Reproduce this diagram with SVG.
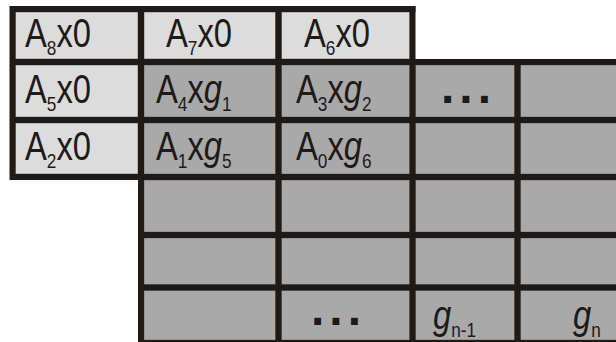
<svg xmlns="http://www.w3.org/2000/svg" width="616" height="342" viewBox="0 0 616 342">
<style>
.lt{fill:#dcdcdc;stroke:#8c8c8c;stroke-width:1}
.dk{fill:#a9a9a9;stroke:#7d7d7d;stroke-width:1}
.ln{stroke:#1e1a18;stroke-width:6;fill:none}
.t{font-family:"Liberation Sans",Arial,sans-serif;font-size:40px;fill:#1e1a18}
.s{font-size:21px}
.i{font-style:italic}
.d{font-family:"Liberation Sans",Arial,sans-serif;font-weight:bold;font-size:48px;letter-spacing:5px;fill:#1e1a18}
</style>
<rect width="616" height="342" fill="#ffffff"/>
<g id="cells">
<g id="c00"><rect class="lt" x="15.5" y="12" width="122.5" height="47"/><text class="t" transform="translate(25 47) scale(0.82 1)">A<tspan class="s" dy="8">8</tspan><tspan dy="-8">x0</tspan></text></g>
<g id="c01"><rect class="lt" x="144" y="12" width="131.5" height="47"/><text class="t" transform="translate(166 47) scale(0.82 1)">A<tspan class="s" dy="8">7</tspan><tspan dy="-8">x0</tspan></text></g>
<g id="c02"><rect class="lt" x="281.5" y="12" width="128.5" height="47"/><text class="t" transform="translate(304 47) scale(0.82 1)">A<tspan class="s" dy="8">6</tspan><tspan dy="-8">x0</tspan></text></g>
<g id="c10"><rect class="lt" x="15.5" y="65" width="122.5" height="52"/><text class="t" transform="translate(25 103) scale(0.82 1)">A<tspan class="s" dy="8">5</tspan><tspan dy="-8">x0</tspan></text></g>
<g id="c11"><rect class="dk" x="144" y="65" width="131.5" height="52"/><text class="t" transform="translate(156 103) scale(0.82 1)">A<tspan class="s" dy="8">4</tspan><tspan dy="-8">x</tspan><tspan class="i">g</tspan><tspan class="s" dy="8">1</tspan></text></g>
<g id="c12"><rect class="dk" x="281.5" y="65" width="128.5" height="52"/><text class="t" transform="translate(296 103) scale(0.82 1)">A<tspan class="s" dy="8">3</tspan><tspan dy="-8">x</tspan><tspan class="i">g</tspan><tspan class="s" dy="8">2</tspan></text></g>
<g id="c13"><rect class="dk" x="415.5" y="65" width="99" height="52"/><text class="d" x="441" y="103">...</text></g>
<g id="c14"><rect class="dk" x="520.5" y="65" width="100" height="52"/></g>
<g id="c20"><rect class="lt" x="15.5" y="123" width="122.5" height="51"/><text class="t" transform="translate(25 160) scale(0.82 1)">A<tspan class="s" dy="8">2</tspan><tspan dy="-8">x0</tspan></text></g>
<g id="c21"><rect class="dk" x="144" y="123" width="131.5" height="51"/><text class="t" transform="translate(156 160) scale(0.82 1)">A<tspan class="s" dy="8">1</tspan><tspan dy="-8">x</tspan><tspan class="i">g</tspan><tspan class="s" dy="8">5</tspan></text></g>
<g id="c22"><rect class="dk" x="281.5" y="123" width="128.5" height="51"/><text class="t" transform="translate(296 160) scale(0.82 1)">A<tspan class="s" dy="8">0</tspan><tspan dy="-8">x</tspan><tspan class="i">g</tspan><tspan class="s" dy="8">6</tspan></text></g>
<g id="c23"><rect class="dk" x="415.5" y="123" width="99" height="51"/></g>
<g id="c24"><rect class="dk" x="520.5" y="123" width="100" height="51"/></g>
<g id="c31"><rect class="dk" x="144" y="180" width="131.5" height="52"/></g>
<g id="c32"><rect class="dk" x="281.5" y="180" width="128.5" height="52"/></g>
<g id="c33"><rect class="dk" x="415.5" y="180" width="99" height="52"/></g>
<g id="c34"><rect class="dk" x="520.5" y="180" width="100" height="52"/></g>
<g id="c41"><rect class="dk" x="144" y="238" width="131.5" height="46.5"/></g>
<g id="c42"><rect class="dk" x="281.5" y="238" width="128.5" height="46.5"/></g>
<g id="c43"><rect class="dk" x="415.5" y="238" width="99" height="46.5"/></g>
<g id="c44"><rect class="dk" x="520.5" y="238" width="100" height="46.5"/></g>
<g id="c51"><rect class="dk" x="144" y="290.5" width="131.5" height="49.5"/></g>
<g id="c52"><rect class="dk" x="281.5" y="290.5" width="128.5" height="49.5"/><text class="d" x="311" y="325">...</text></g>
<g id="c53"><rect class="dk" x="415.5" y="290.5" width="99" height="49.5"/><text class="t" transform="translate(433 329) scale(0.82 1)"><tspan class="i">g</tspan><tspan class="s" dy="8">n-1</tspan></text></g>
<g id="c54"><rect class="dk" x="520.5" y="290.5" width="100" height="49.5"/><text class="t" transform="translate(573 329) scale(0.82 1)"><tspan class="i">g</tspan><tspan class="s" dy="8">n</tspan></text></g>
</g>
<g id="lines" class="ln">
<line x1="10" y1="9" x2="415.5" y2="9"/>
<line x1="10" y1="62" x2="616" y2="62"/>
<line x1="10" y1="120" x2="616" y2="120"/>
<line x1="10" y1="177" x2="616" y2="177"/>
<line x1="138" y1="235" x2="616" y2="235"/>
<line x1="138" y1="287.5" x2="616" y2="287.5"/>
<line x1="138" y1="343" x2="616" y2="343"/>
<line x1="12.5" y1="6" x2="12.5" y2="180"/>
<line x1="141" y1="6" x2="141" y2="342"/>
<line x1="278.5" y1="6" x2="278.5" y2="342"/>
<line x1="412.5" y1="6" x2="412.5" y2="342"/>
<line x1="517.5" y1="59" x2="517.5" y2="342"/>
</g>
</svg>
